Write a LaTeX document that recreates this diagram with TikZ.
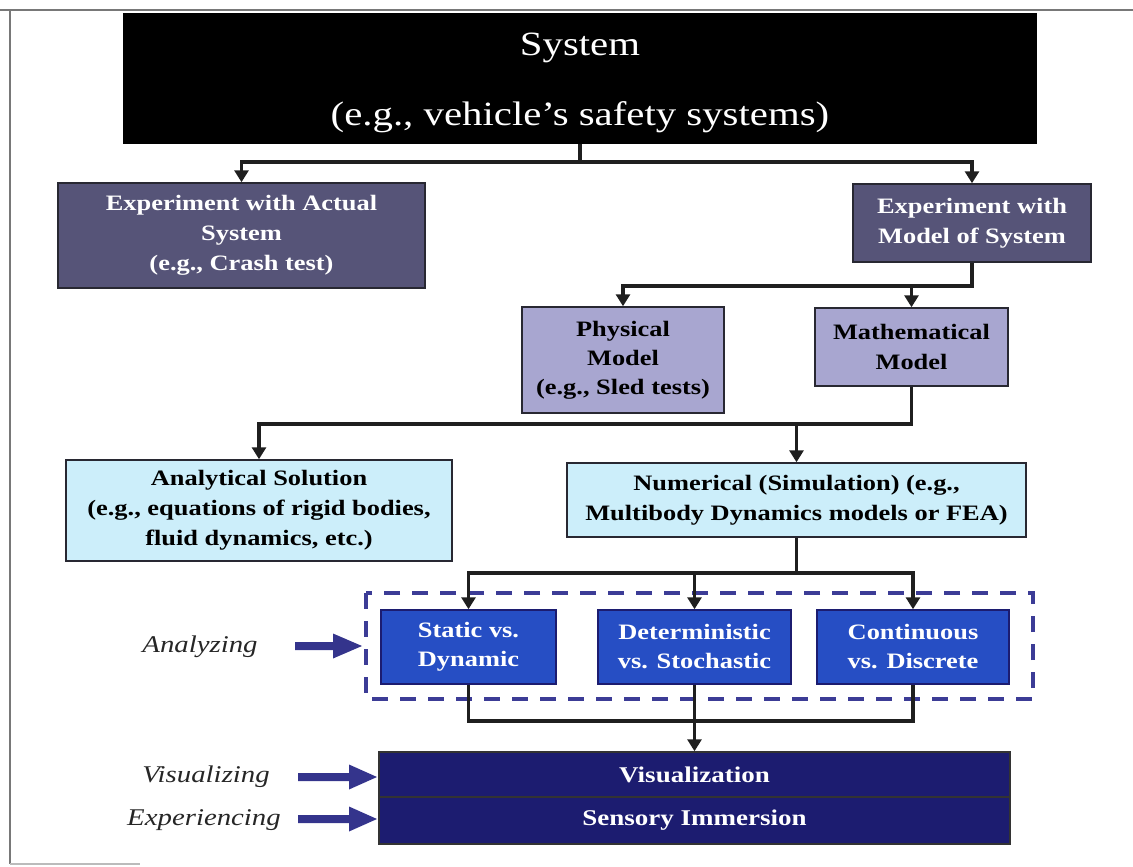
\documentclass[tikz,border=0pt]{standalone}
\usepackage{fontspec}
\setmainfont[FakeStretch=1.2]{Liberation Serif}
\usetikzlibrary{arrows.meta}

\definecolor{expcol}{RGB}{86,84,120}
\definecolor{modcol}{RGB}{168,166,208}
\definecolor{solcol}{RGB}{204,238,250}
\definecolor{anacol}{RGB}{38,78,196}
\definecolor{viscol}{RGB}{28,28,112}
\definecolor{dashcol}{RGB}{60,60,150}
\definecolor{barcol}{RGB}{52,52,140}
\definecolor{boxedge}{RGB}{40,40,50}
\definecolor{framecol}{RGB}{120,120,120}

\begin{document}
\begin{tikzpicture}[x=1pt,y=-1pt,
  box/.style={draw=boxedge, line width=1.5pt, inner sep=0pt, align=center,
    font=\fontsize{22}{30}\selectfont\bfseries},
  darkbox/.style={box, fill=expcol, text=white},
  modbox/.style={box, fill=modcol, text=black},
  solbox/.style={box, fill=solcol, text=black},
  anabox/.style={box, fill=anacol, text=white, draw=viscol},
  visbox/.style={box, fill=viscol, text=white, draw=black!80,
    font=\fontsize{22.5}{30}\selectfont\bfseries},
  wire/.style={line width=3.5pt, draw=black!88},
  conn/.style={wire, -{Triangle[length=12pt,width=14pt]}},
  lab/.style={font=\fontsize{24}{28}\selectfont\itshape, text=black!85},
  blockarrow/.style={fill=barcol}
]
\useasboundingbox (0,0) rectangle (1133,867);

% page frame
\draw[framecol, line width=2.5pt] (0,10) -- (1133,10);
\draw[framecol, line width=2pt] (10,10) -- (10,864);
\draw[framecol!50, line width=1.5pt] (10,864) -- (140,864);

% top level
\node[fill=black, inner sep=0pt, minimum width=914pt, minimum height=131pt] (sys) at (580,78.5) {};
\node[text=white, inner sep=0pt, align=center, font=\fontsize{34}{70}\selectfont] (systxt) at (580,83)
  {System\\(e.g., vehicle's safety systems)};

\node[darkbox, minimum width=367pt, minimum height=105pt] (act) at (241.5,235.5)
  {Experiment with Actual\\System\\(e.g., Crash test)};
\node[darkbox, minimum width=238pt, minimum height=78pt] (mod) at (972,223)
  {Experiment with\\Model of System};

\node[modbox, minimum width=202pt, minimum height=106pt, font=\fontsize{22}{29}\selectfont\bfseries] (phy) at (623,360)
  {Physical\\Model\\(e.g., Sled tests)};
\node[modbox, minimum width=193pt, minimum height=78pt] (mat) at (911.5,347)
  {Mathematical\\Model};

\node[solbox, minimum width=386pt, minimum height=101pt] (anl) at (259,510.5)
  {Analytical Solution\\(e.g., equations of rigid bodies,\\fluid dynamics, etc.)};
\node[solbox, minimum width=459pt, minimum height=74pt] (num) at (796.5,500)
  {Numerical (Simulation) (e.g.,\\Multibody Dynamics models or FEA)};

% analysis group
\draw[dashcol, line width=4pt, dash pattern=on 16pt off 12pt] (366,593) rectangle (1033,699);

\node[anabox, minimum width=175pt, minimum height=74pt, font=\fontsize{22}{29}\selectfont\bfseries] (sta) at (468.5,647)
  {Static vs.\\Dynamic};
\node[anabox, minimum width=193pt, minimum height=74pt, font=\fontsize{22}{29}\selectfont\bfseries] (det) at (694.5,647)
  {Deterministic\\vs. Stochastic};
\node[anabox, minimum width=192pt, minimum height=74pt, font=\fontsize{22}{29}\selectfont\bfseries] (con) at (913,647)
  {Continuous\\vs. Discrete};

\node[visbox, minimum width=631pt, minimum height=45pt] (vis) at (694.5,774.5)
  {Visualization};
\node[visbox, minimum width=631pt, minimum height=47pt] (sen) at (694.5,820.5)
  {Sensory Immersion};

% connectors
\draw[conn] (sys.south) -- ++(0,18) -| (act.north);
\draw[conn] (sys.south) -- ++(0,18) -| (mod.north);
\draw[conn] (mod.south) -- ++(0,23) -| (phy.north);
\draw[conn] (mod.south) -- ++(0,23) -| (mat.north);
\draw[conn] (mat.south) -- ++(0,37) -| (anl.north);
\draw[conn] (mat.south) -- ++(0,37) -| (num.north);
\draw[conn] (num.south) -- ++(0,35) -| (sta.north);
\draw[conn] (num.south) -- ++(0,35) -| (det.north);
\draw[conn] (num.south) -- ++(0,35) -| (con.north);
\draw[wire] (sta.south) -- ++(0,36) -| (con.south);
\draw[conn] (det.south) -- (vis.north);

% side labels and their block arrows
\node[lab] (lana) at (200,647) {Analyzing};
\node[lab] (lvis) at (206,777) {Visualizing};
\node[lab] (lexp) at (204,820) {Experiencing};

\coordinate (aa) at (295,646);
\coordinate (av) at (298,777);
\coordinate (ae) at (298,819);
\fill[blockarrow] (aa) ++(0,-4) -- ++(38,0) -- ++(0,-8.5) -- ++(29,12.5) -- ++(-29,12.5) -- ++(0,-8.5) -- ++(-38,0) -- cycle;
\fill[blockarrow] (av) ++(0,-4) -- ++(51,0) -- ++(0,-8.5) -- ++(28,12.5) -- ++(-28,12.5) -- ++(0,-8.5) -- ++(-51,0) -- cycle;
\fill[blockarrow] (ae) ++(0,-4) -- ++(51,0) -- ++(0,-8.5) -- ++(28,12.5) -- ++(-28,12.5) -- ++(0,-8.5) -- ++(-51,0) -- cycle;
\end{tikzpicture}
\end{document}
